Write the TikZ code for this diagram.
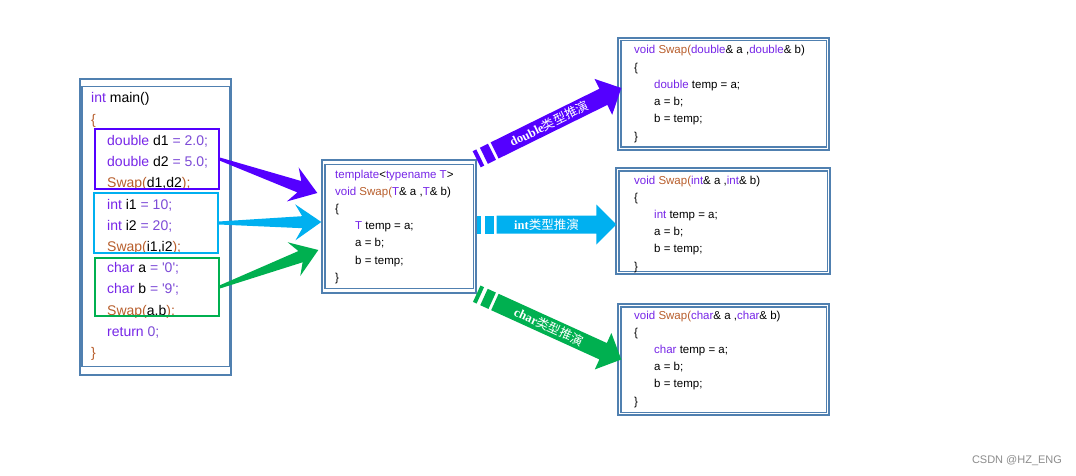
\documentclass[tikz,border=0pt]{standalone}
\usepackage{fontspec}
\usepackage{xcolor}
\usepackage{tikz}
\usetikzlibrary{calc, positioning}

\newfontfamily\codefont{Liberation Sans}
\newfontfamily\banfont{Liberation Serif}
\newfontfamily\cjk{Noto Sans CJK SC}

\definecolor{kwcol}{RGB}{119,38,232}
\definecolor{fncol}{RGB}{184,94,44}
\definecolor{numcol}{RGB}{125,75,215}
\definecolor{framecol}{RGB}{80,128,176}
\definecolor{dblcol}{RGB}{84,0,255}
\definecolor{intcol}{RGB}{0,176,240}
\definecolor{chrcol}{RGB}{0,176,80}

\newcommand\kw[1]{\textcolor{kwcol}{#1}}
\newcommand\fn[1]{\textcolor{fncol}{#1}}
\newcommand\nm[1]{\textcolor{numcol}{#1}}

% flat arrow with two leading bars and a label: colour, from, to, text
\newcommand\banner[4]{%
  \fill[#1] ($(#2)!9pt!90:(#3)$) -- ($(#2)!4pt!(#3)!9pt!90:(#3)$)
    -- ($(#2)!4pt!(#3)!9pt!-90:(#3)$) -- ($(#2)!9pt!-90:(#3)$) -- cycle;
  \fill[#1] ($(#2)!8pt!(#3)!9pt!90:(#3)$) -- ($(#2)!17pt!(#3)!9pt!90:(#3)$)
    -- ($(#2)!17pt!(#3)!9pt!-90:(#3)$) -- ($(#2)!8pt!(#3)!9pt!-90:(#3)$) -- cycle;
  \fill[#1] ($(#2)!20pt!(#3)!9pt!90:(#3)$) -- ($(#3)!20pt!(#2)!9pt!90:(#3)$)
    -- ($(#3)!20pt!(#2)!20pt!90:(#3)$) -- (#3)
    -- ($(#3)!20pt!(#2)!20pt!-90:(#3)$) -- ($(#3)!20pt!(#2)!9pt!-90:(#3)$)
    -- ($(#2)!20pt!(#3)!9pt!-90:(#3)$) -- cycle;
  \path (#2) -- (#3) node[midway, sloped, bantext] {#4};
}

\begin{document}
\begin{tikzpicture}[x=1pt, y=-1pt,
    frame/.style={draw=framecol, line width=1.4pt, inner sep=0, fill=white},
    inframe/.style={draw=framecol, line width=1.4pt},
    group/.style={draw, line width=1.3pt, inner sep=0, minimum width=124pt},
    bigcode/.style={anchor=base west, inner sep=0, font=\codefont\fontsize{14}{16}\selectfont},
    code/.style={anchor=base west, inner sep=0, font=\codefont\fontsize{11.5}{13}\selectfont},
    bantext/.style={text=white, inner sep=0, font=\fontsize{12.5}{14}\selectfont}
  ]
  \path[fill=white] (0,0) rectangle (1076,476);
  \useasboundingbox (0,0) rectangle (1076,476);

  % the frames
  \node[frame, minimum width=151pt, minimum height=296pt] (main) at (155.5,227) {};
  \draw[inframe] ([xshift=2.5pt, yshift=-8pt]main.north west) rectangle ([xshift=-2.5pt, yshift=9pt]main.south east);
  \node[frame, minimum width=154pt, minimum height=133pt] (tmpl) at (399,226.5) {};
  \draw[inframe] ([xshift=3.5pt, yshift=-5pt]tmpl.north west) rectangle ([xshift=-3.5pt, yshift=5pt]tmpl.south east);
  \node[frame, minimum width=211pt, minimum height=112pt] (sd) at (723.5,94) {};
  \node[frame, minimum width=214pt, minimum height=106pt] (si) at (723,221) {};
  \node[frame, minimum width=211pt, minimum height=111pt] (sc) at (723.5,359.5) {};
  \foreach \bx in {sd, si, sc}
    \draw[inframe] ([xshift=3.5pt, yshift=-3.5pt]\bx.north west) rectangle ([xshift=-3.5pt, yshift=3.5pt]\bx.south east);

  % main()
  \foreach \x/\txt [count=\i] in {
      91/{\kw{int} main()}, 91/{\fn{\{}},
      107/{\kw{double} d1 \nm{= 2.0;}}, 107/{\kw{double} d2 \nm{= 5.0;}}, 107/{\fn{Swap(}d1,d2\fn{);}},
      107/{\kw{int} i1 \nm{= 10;}}, 107/{\kw{int} i2 \nm{= 20;}}, 107/{\fn{Swap(}i1,i2\fn{);}},
      107/{\kw{char} a \nm{= '0';}}, 107/{\kw{char} b \nm{= '9';}}, 107/{\fn{Swap(}a,b\fn{);}},
      107/{\kw{return} \nm{0;}}, 91/{\fn{\}}}}
    \node[bigcode] (m\i) at (\x, {103+21.2*(\i-1)}) {\txt};

  \node[group, draw=dblcol, minimum height=60pt] (gd) at (157,159) {};
  \node[group, draw=intcol, minimum height=60pt] (gi) at (156,223) {};
  \node[group, draw=chrcol, minimum height=58pt] (gc) at (157,287) {};

  % template
  \foreach \x/\txt [count=\i] in {
      335/{\kw{template}<\kw{typename T}>}, 335/{\kw{void} \fn{Swap(}\kw{T}\& a ,\kw{T}\& b)},
      335/{\{}, 355/{\kw{T} temp = a;}, 355/{a = b;}, 355/{b = temp;}, 335/{\}}}
    \node[code] (t\i) at (\x, {178+17.2*(\i-1)}) {\txt};

  % the three instances
  \foreach \ty/\bx/\yb in {double/sd/54, int/si/184, char/sc/319}
    \foreach \x/\txt [count=\i] in {
        634/{\kw{void} \fn{Swap(}\kw{\ty}\& a ,\kw{\ty}\& b)}, 634/{\{},
        654/{\kw{\ty} temp = a;}, 654/{a = b;}, 654/{b = temp;}, 634/{\}}}
      \node[code] (\bx-\i) at (\x, {\yb+17.2*(\i-1)}) {\txt};

  % calls into the template
  \coordinate (dtip) at ([xshift=-4pt, yshift=33.5pt]tmpl.west);
  \coordinate (itip) at ([yshift=4.5pt]tmpl.west);
  \coordinate (ctip) at ([xshift=-3pt, yshift=-23.5pt]tmpl.west);
  \foreach \src/\dst/\col in {gd/dtip/dblcol, gi/itip/intcol, gc/ctip/chrcol}
    \fill[\col] ($(\src.east)!1.5pt!90:(\dst)$) -- ($(\dst)!19pt!(\src.east)!6pt!90:(\dst)$)
      -- ($(\dst)!26pt!(\src.east)!18pt!90:(\dst)$) -- (\dst)
      -- ($(\dst)!26pt!(\src.east)!18pt!-90:(\dst)$) -- ($(\dst)!19pt!(\src.east)!6pt!-90:(\dst)$)
      -- ($(\src.east)!1.5pt!-90:(\dst)$) -- cycle;

  % deduction arrows
  \coordinate (dend) at ([xshift=4pt, yshift=6pt]sd.west);
  \coordinate (istart) at ([yshift=2pt]tmpl.east);
  \coordinate (iend) at ([xshift=1pt]si.west |- istart);
  \coordinate (cend) at ([xshift=4pt]sc.west);
  \banner{dblcol}{tmpl.north east}{dend}{{\banfont\bfseries double}{\cjk 类型推演}}
  \banner{intcol}{istart}{iend}{{\banfont\bfseries int}{\cjk 类型推演}}
  \banner{chrcol}{tmpl.south east}{cend}{{\banfont\bfseries char}{\cjk 类型推演}}

  \node[text=black!45, font=\codefont\fontsize{11}{13}\selectfont] (mark) at (1017,461) {CSDN @HZ\_ENG};
\end{tikzpicture}
\end{document}
